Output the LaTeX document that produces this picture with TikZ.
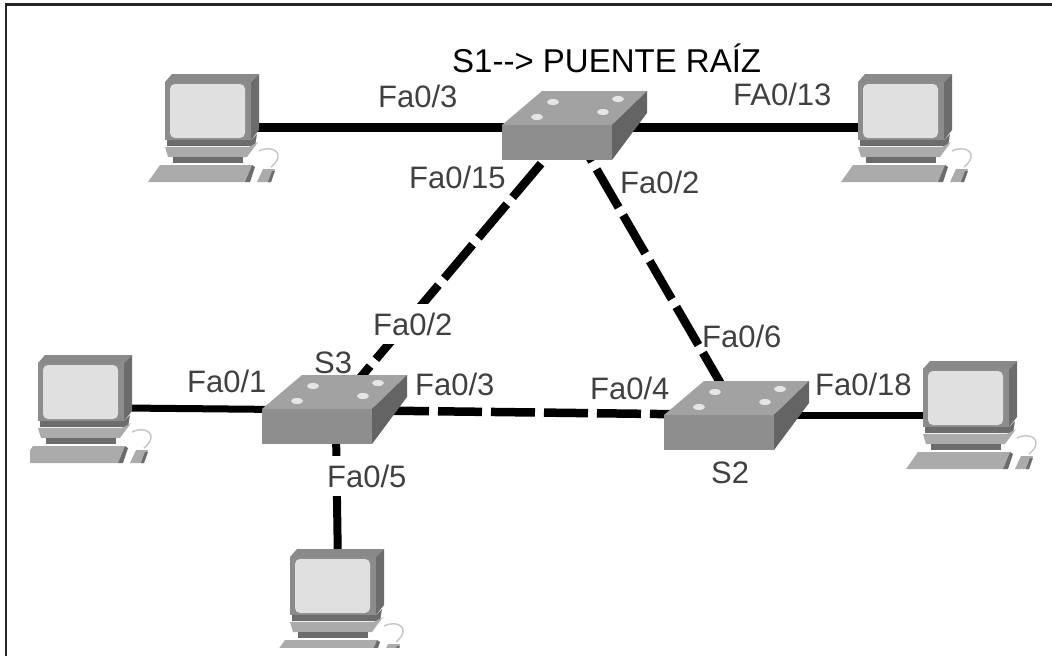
\documentclass[tikz,border=0pt]{standalone}
\usepackage{fontspec}
\setmainfont{Liberation Sans}
\definecolor{swFront}{HTML}{8E8E8E}
\definecolor{swTop}{HTML}{A2A2A2}
\definecolor{swSide}{HTML}{646464}
\definecolor{pcBody}{HTML}{8C8C8C}
\definecolor{pcDark}{HTML}{6C6C6C}
\definecolor{pcLight}{HTML}{ABABAB}
\definecolor{pcScreen}{HTML}{E0E0E0}
\definecolor{labelGrey}{HTML}{404040}
\tikzset{
  solidLink/.style={line width=9pt,black},
  thinLink/.style={line width=7pt,black},
  dashLink/.style={line width=8.5pt,black,dash pattern=on 44pt off 9pt},
  portLabel/.style={anchor=base west,inner sep=0pt,text=labelGrey,font=\fontsize{31}{31}\selectfont},
  cutLabel/.style={portLabel,fill=white,inner ysep=9pt},
  titleLabel/.style={anchor=base west,inner sep=0pt,text=black,font=\fontsize{33}{33}\selectfont},
  pics/switchbox/.style={code={
    \fill[swTop] (0,0) -- (40,-34) -- (145,-34) -- (110,0) -- cycle;
    \fill[swSide] (110,0) -- (145,-34) -- (145,-12) -- (110,35) -- cycle;
    \fill[swFront] (0,0) rectangle (110,35);
    \foreach \lx/\ly in {51/-23,116/-26,35/-8,101/-13}{
      \fill[white!90!black] (\lx,\ly) ellipse (6 and 3);
    }
  }},
  pics/pcbox/.style={code={
    % monitor
    \fill[pcLight!80!black] (0,0) -- (7,-8) -- (94,-8) -- (86,0) -- cycle;
    \fill[pcDark] (86,0) -- (94,-8) -- (94,48) -- (86,58) -- cycle;
    \fill[pcBody] (0,0) rectangle (86,58);
    \fill[pcScreen,rounded corners=5pt] (5,2) rectangle (80,56);
    % stand
    \fill[pcDark] (2,58) -- (86,58) -- (92,52) -- (90,64) -- (2,64) -- cycle;
    \fill[pcLight] (0,65) -- (84,65) -- (93,60) -- (82,75) -- (3,75) -- cycle;
    \fill[pcDark] (8,75) rectangle (78,81);
    % keyboard
    \fill[pcLight] (-17,100) -- (-5,83) -- (87,83) -- (80,100) -- cycle;
    \fill[pcDark] (80,100) -- (87,83) -- (90,85) -- (85,100) -- cycle;
    % mouse
    \draw[line width=1.5pt,black!22] (94,69) .. controls (108,62) and (122,72) .. (106,85);
    \fill[pcLight] (92,100) -- (98,87) -- (110,87) -- (106,100) -- cycle;
    \fill[pcDark] (103,100) -- (107,89) -- (110,89) -- (106,100) -- cycle;
  }}
}

\begin{document}
\begin{tikzpicture}[x=1pt,y=-1pt]
\useasboundingbox (0,0) rectangle (1052,656);

% -------- link ends ----------
\coordinate (s1) at (572,127);
\coordinate (s2) at (739,415);
\coordinate (s3) at (333,410);
\coordinate (s3down) at (336,430);
\coordinate (pc1) at (250,127);
\coordinate (pc2) at (870,127);
\coordinate (pc3) at (125,408);
\coordinate (pc4) at (930,415);
\coordinate (pc5) at (338,570);

% -------- links ----------
\draw[solidLink] (pc1) -- (s1);
\draw[solidLink] (s1) -- (pc2);
\draw[thinLink] (pc3) -- (s3);
\draw[thinLink] (s2) -- (pc4);
\draw[line width=8pt] (s3down) -- (pc5);
\draw[dashLink,dash phase=5pt] (s1) -- (s3);
\draw[dashLink,dash phase=4pt] (s1) -- (s2);
\draw[dashLink,dash phase=1pt] (s3) -- (s2);

% -------- switches ----------
\foreach \x/\y in {502/125,262/409,664/415}{
  \pic at (\x,\y) {switchbox};
}

% -------- computers ----------
\foreach \x/\y in {165/82,858/82,923/369}{
  \pic at (\x,\y) {pcbox};
}
\begin{scope}
  \clip (30,340) rectangle (170,480);
  \pic at (38,363) {pcbox};
\end{scope}
\begin{scope}
  \clip (260,540) rectangle (420,647);
  \pic at (290,557) {pcbox};
\end{scope}

% -------- labels ----------
\node[titleLabel] (title) at (452,72) {S1{-}{-}> PUENTE RAÍZ};
\node[portLabel] (lblPcA) at (378,107) {Fa0/3};
\node[portLabel] (lblPcB) at (733,105) {FA0/13};
\node[portLabel] (lblSaC) at (409,188) {Fa0/15};
\node[portLabel] (lblSaB) at (620,193) {Fa0/2};
\node[cutLabel] (lblScA) at (373,335) {Fa0/2};
\node[portLabel] (lblSbA) at (702,347) {Fa0/6};
\node[portLabel] (lblSc) at (314,373) {S3};
\node[portLabel] (lblPcC) at (187,392) {Fa0/1};
\node[portLabel] (lblScB) at (415,395) {Fa0/3};
\node[portLabel] (lblSbB) at (590,399) {Fa0/4};
\node[portLabel] (lblPcD) at (815,395) {Fa0/18};
\node[portLabel] (lblSb) at (711,483) {S2};
\node[cutLabel] (lblPcE) at (327,487) {Fa0/5};

% -------- frame ----------
\draw[line width=2.5pt,black!85] (6,656) -- (6,4.5) -- (1052,4.5);
\end{tikzpicture}
\end{document}
